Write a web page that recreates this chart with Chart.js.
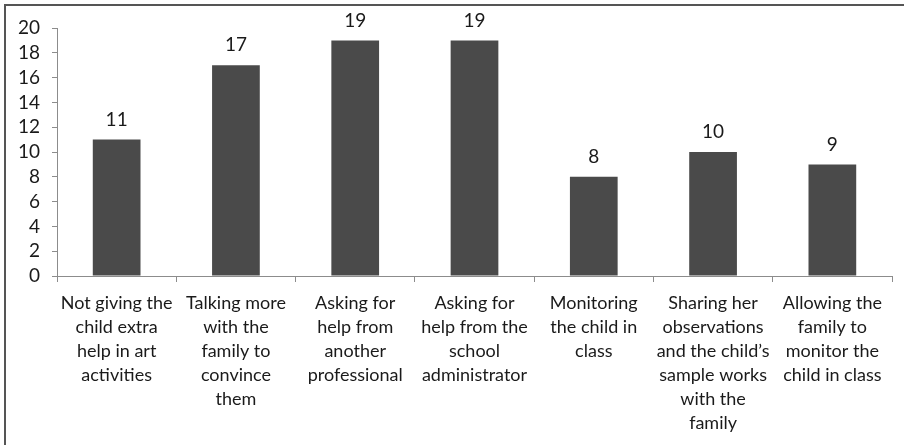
<!DOCTYPE html>
<html>
<head>
<meta charset="utf-8">
<script src="https://cdn.jsdelivr.net/npm/chart.js@4/dist/chart.umd.min.js"></script>
<style>
  html, body { margin: 0; padding: 0; background: #fff; }
  #wrap { position: relative; width: 904px; height: 445px; overflow: hidden; }
  #frame { position: absolute; left: 4px; top: 4px; width: 910px; height: 450px;
           border-top: 2px solid #555; border-left: 2px solid #555; box-sizing: border-box; }
  canvas { position: absolute; left: 0; top: 0; }
</style>
</head>
<body>
<div id="wrap">
  <div id="frame"></div>
  <canvas id="c" width="904" height="445"></canvas>
</div>
<script>
const categories = [
  ["Not giving the", "child extra", "help in art", "activities"],
  ["Talking more", "with the", "family to", "convince", "them"],
  ["Asking for", "help from", "another", "professional"],
  ["Asking for", "help from the", "school", "administrator"],
  ["Monitoring", "the child in", "class"],
  ["Sharing her", "observations", "and the child\u2019s", "sample works", "with the", "family"],
  ["Allowing the", "family to", "monitor the", "child in class"]
];
const values = [11, 17, 19, 19, 8, 10, 9];
const yTicks = [0, 2, 4, 6, 8, 10, 12, 14, 16, 18, 20];

const FONT = "Lato, 'Open Sans', sans-serif";
const TEXT = "#1a1a1a";
const AXIS = "#8c8c8c";

const valueLabels = {
  id: 'valueLabels',
  afterDatasetsDraw(chart) {
    const ctx = chart.ctx;
    const meta = chart.getDatasetMeta(0);
    ctx.save();
    ctx.font = "19px " + FONT;
    ctx.fillStyle = TEXT;
    ctx.textAlign = 'center';
    ctx.textBaseline = 'middle';
    meta.data.forEach((bar, i) => {
      ctx.fillText(String(values[i]), bar.x, bar.y - 20);
    });
    ctx.restore();
  }
};

new Chart(document.getElementById('c'), {
  type: 'bar',
  data: {
    labels: categories,
    datasets: [{
      data: values,
      backgroundColor: '#4a4a4a',
      borderWidth: 0,
      barPercentage: 0.4,
      categoryPercentage: 1.0
    }]
  },
  options: {
    responsive: false,
    animation: false,
    devicePixelRatio: 1,
    layout: { padding: { left: 8, right: 12, top: 28, bottom: 0 } },
    plugins: { legend: { display: false }, tooltip: { enabled: false } },
    scales: {
      x: {
        offset: true,
        border: { display: true, color: AXIS, width: 1 },
        grid: { display: true, drawOnChartArea: false, drawTicks: true, tickLength: 6, color: AXIS, offset: true },
        ticks: { color: TEXT, font: { family: FONT, size: 18, lineHeight: 1.333 }, maxRotation: 0, autoSkip: false, padding: 9 },
        afterFit(axis) { axis.height = 169; }
      },
      y: {
        min: 0, max: 20,
        border: { display: true, color: AXIS, width: 1 },
        grid: { display: true, drawOnChartArea: false, drawTicks: true, tickLength: 5, color: AXIS },
        afterBuildTicks(axis) { axis.ticks = yTicks.map(v => ({ value: v })); },
        ticks: { color: TEXT, font: { family: FONT, size: 19, lineHeight: 1 }, padding: 12, autoSkip: false },
        afterFit(axis) { axis.width = 49; }
      }
    }
  },
  plugins: [valueLabels]
});
</script>
</body>
</html>
